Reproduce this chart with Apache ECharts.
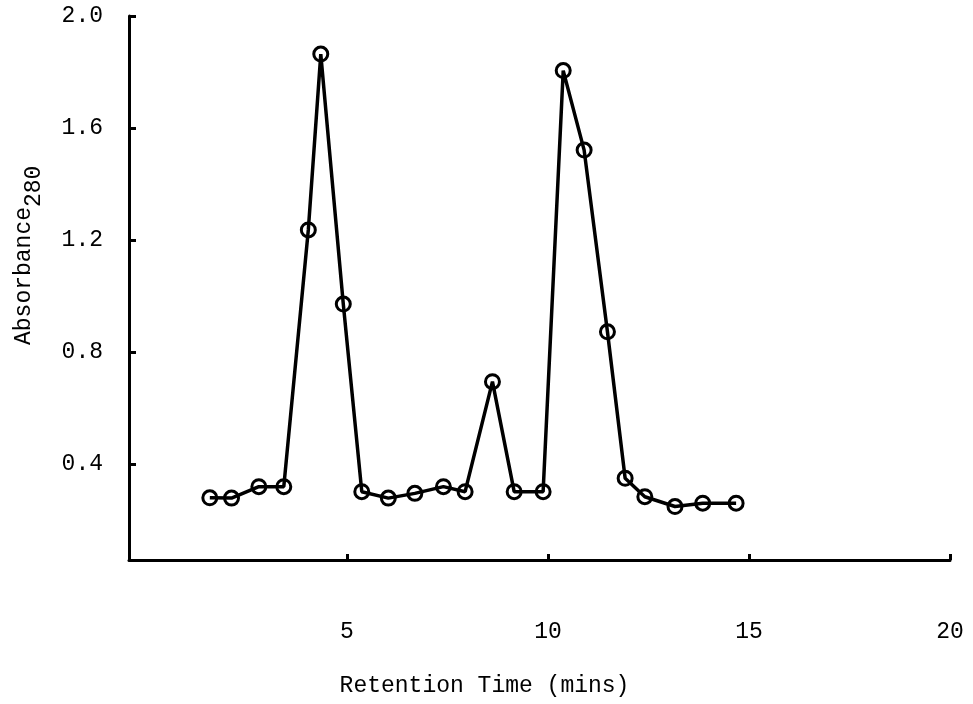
<!DOCTYPE html>
<html>
<head>
<meta charset="utf-8">
<script src="https://cdn.jsdelivr.net/npm/echarts@6/dist/echarts.min.js"></script>
<style>
html,body{margin:0;padding:0;background:#fff;}
#chart{width:973px;height:704px;}
</style>
</head>
<body>
<div id="chart"></div>
<script>
// Retention time (mins)
var times = [1.59, 2.13, 2.81, 3.43, 4.04, 4.35, 4.91, 5.37, 6.03, 6.69, 7.40, 7.94, 8.62, 9.16, 9.88, 10.38, 10.90, 11.48, 11.92, 12.41, 13.16, 13.85, 14.68];
// Absorbance at 280 nm
var absorbance = [0.279, 0.278, 0.319, 0.319, 1.236, 1.864, 0.971, 0.301, 0.278, 0.295, 0.319, 0.301, 0.694, 0.301, 0.301, 1.805, 1.521, 0.872, 0.349, 0.283, 0.248, 0.260, 0.260];
var xTicks = [5, 10, 15, 20];
var yTicks = [0.4, 0.8, 1.2, 1.6, 2.0];
var xTitle = 'Retention Time (mins)';
var yTitleMain = 'Absorbance';
var yTitleSub = '280';

var FONT = 'Liberation Mono';
var FS = 23;
var chart = echarts.init(document.getElementById('chart'));
var pts = times.map(function (t, i) { return [t, absorbance[i]]; });
var mainLen = yTitleMain.length * FS * 0.6;

chart.setOption({
  animation: false,
  backgroundColor: '#fff',
  grid: { left: 129, right: 23, top: 16, bottom: 144, containLabel: false },
  graphic: [
    { type: 'text', x: 24, y: 345, rotation: Math.PI / 2,
      style: { text: yTitleMain, font: FS + 'px "' + FONT + '"', fill: '#000', textAlign: 'left', textVerticalAlign: 'middle' } },
    { type: 'text', x: 34, y: 345 - mainLen, rotation: Math.PI / 2,
      style: { text: yTitleSub, font: FS + 'px "' + FONT + '"', fill: '#000', textAlign: 'left', textVerticalAlign: 'middle' } }
  ],
  xAxis: {
    type: 'value', min: -0.42, max: 20,
    axisLine: { show: true, onZero: false, lineStyle: { color: '#000', width: 3 } },
    axisTick: { show: true, inside: true, length: 6, customValues: xTicks, lineStyle: { color: '#000', width: 3 } },
    axisLabel: { customValues: xTicks, margin: 60, color: '#000', fontFamily: FONT, fontSize: FS },
    splitLine: { show: false },
    name: xTitle, nameLocation: 'middle', nameGap: 114, nameMoveOverlap: false,
    nameTextStyle: { color: '#000', fontFamily: FONT, fontSize: FS, padding: [0, 110, 0, 0] }
  },
  yAxis: {
    type: 'value', min: 0.057, max: 2.0,
    axisLine: { show: true, onZero: false, lineStyle: { color: '#000', width: 3 } },
    axisTick: { show: true, inside: true, length: 7, customValues: yTicks, lineStyle: { color: '#000', width: 3 } },
    axisLabel: { customValues: yTicks, margin: 26, color: '#000', fontFamily: FONT, fontSize: FS,
      formatter: function (v) { return v.toFixed(1); } },
    splitLine: { show: false }
  },
  series: [{
    type: 'line',
    data: pts,
    symbol: 'circle',
    symbolSize: 14,
    lineStyle: { color: '#000', width: 3.5 },
    itemStyle: { color: 'rgba(255,255,255,0)', borderColor: '#000', borderWidth: 3 },
    z: 3
  }]
});
</script>
</body>
</html>
